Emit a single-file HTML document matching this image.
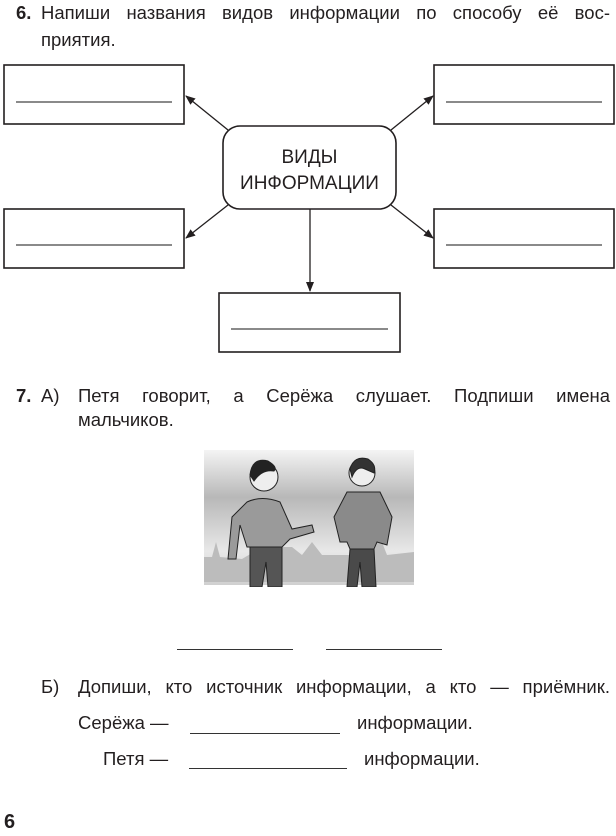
<!DOCTYPE html>
<html><head><meta charset="utf-8"><style>
body{margin:0;width:616px;height:836px;background:#fff;position:relative;overflow:hidden;font-family:"Liberation Sans","DejaVu Sans",sans-serif;color:#231f20}
.t{position:absolute;font-size:18.5px;white-space:nowrap;line-height:20px}
b{font-weight:bold}
</style></head><body>
<div class="t" style="left:16px;top:3px"><b>6.</b></div>
<div class="t" style="left:41px;top:3px;width:569px;text-align:justify;text-align-last:justify">Напиши названия видов информации по способу её вос-</div>
<div class="t" style="left:41px;top:30px">приятия.</div>

<svg width="616" height="430" style="position:absolute;left:0;top:0">
<defs><marker id="a" markerWidth="10" markerHeight="8" refX="9" refY="4" orient="auto" markerUnits="userSpaceOnUse"><path d="M0,0 L10,4 L0,8 Z" fill="#231f20"/></marker></defs>
<g fill="none" stroke="#231f20" stroke-width="1.6">
<rect x="4" y="65" width="180" height="59"/>
<rect x="434" y="65" width="180" height="59"/>
<rect x="4" y="209" width="180" height="59"/>
<rect x="434" y="209" width="180" height="59"/>
<rect x="219" y="293" width="181" height="59"/>
<rect x="223" y="126" width="173" height="83" rx="17"/>
</g>
<g stroke="#444" stroke-width="1.3">
<line x1="16" y1="102" x2="172" y2="102"/>
<line x1="446" y1="102" x2="602" y2="102"/>
<line x1="16" y1="245" x2="172" y2="245"/>
<line x1="446" y1="245" x2="602" y2="245"/>
<line x1="231" y1="329" x2="388" y2="329"/>
</g>
<g stroke="#231f20" stroke-width="1.3" marker-end="url(#a)">
<line x1="228" y1="130" x2="186" y2="96"/>
<line x1="391" y1="130" x2="433" y2="96"/>
<line x1="228" y1="205" x2="186" y2="238"/>
<line x1="391" y1="205" x2="433" y2="238"/>
<line x1="310" y1="209" x2="310" y2="291"/>
</g>
<text x="309.5" y="163" text-anchor="middle" font-size="19" fill="#231f20" font-family="Liberation Sans,sans-serif">ВИДЫ</text>
<text x="309.5" y="189" text-anchor="middle" font-size="19" fill="#231f20" font-family="Liberation Sans,sans-serif">ИНФОРМАЦИИ</text>
</svg>

<div class="t" style="left:16px;top:386px"><b>7.</b></div>
<div class="t" style="left:41px;top:386px">А)</div>
<div class="t" style="left:78px;top:386px;width:532px;text-align:justify;text-align-last:justify">Петя говорит, а Серёжа слушает. Подпиши имена</div>
<div class="t" style="left:78px;top:410px">мальчиков.</div>

<svg width="214" height="140" style="position:absolute;left:202px;top:447px">
<defs><linearGradient id="g" x1="0" y1="0" x2="0" y2="1"><stop offset="0" stop-color="#f4f4f4"/><stop offset="0.35" stop-color="#b8b8b8"/><stop offset="0.75" stop-color="#e8e8e8"/><stop offset="1" stop-color="#d0d0d0"/></linearGradient></defs>
<rect x="2" y="3" width="210" height="135" fill="url(#g)"/>
<path d="M2,110 L10,110 L14,95 L18,110 L40,112 L60,100 L90,100 L100,108 L110,95 L120,108 L170,108 L178,90 L185,108 L212,105 L212,135 L2,135Z" fill="#bcbcbc"/>
<g stroke="#222" stroke-width="1">
<circle cx="62" cy="30" r="14" fill="#eee"/><path d="M48,28 Q50,10 66,14 Q76,20 72,24 Q60,22 52,34Z" fill="#222"/>
<path d="M45,55 Q60,48 78,55 L90,82 L110,78 L112,85 L88,92 L80,100 L45,100 L38,78 L34,112 L26,112 L30,70Z" fill="#9a9a9a"/>
<path d="M48,100 L80,100 L80,140 L66,140 L64,115 L60,140 L48,140Z" fill="#555"/>
<circle cx="160" cy="26" r="13" fill="#eee"/><path d="M148,22 Q152,8 166,12 Q175,18 172,26 L163,22 Q155,18 150,30Z" fill="#333"/>
<path d="M145,45 L178,45 L190,70 L185,98 L175,95 L172,102 L148,102 L145,95 L138,95 L132,70Z" fill="#8a8a8a"/>
<path d="M148,102 L172,102 L174,140 L160,140 L158,115 L155,140 L145,140Z" fill="#4a4a4a"/>
</g>
</svg>

<div style="position:absolute;left:177px;top:649px;width:116px;border-top:1.3px solid #333"></div>
<div style="position:absolute;left:326px;top:649px;width:116px;border-top:1.3px solid #333"></div>

<div class="t" style="left:41px;top:677px">Б)</div>
<div class="t" style="left:78px;top:677px;width:532px;text-align:justify;text-align-last:justify">Допиши, кто источник информации, а кто — приёмник.</div>
<div class="t" style="left:78px;top:713px">Серёжа —</div>
<div style="position:absolute;left:190px;top:733px;width:150px;border-top:1.3px solid #333"></div>
<div class="t" style="left:357px;top:713px">информации.</div>
<div class="t" style="left:103px;top:749px">Петя —</div>
<div style="position:absolute;left:189px;top:768px;width:158px;border-top:1.3px solid #333"></div>
<div class="t" style="left:364px;top:749px">информации.</div>

<div class="t" style="left:4px;top:812px;font-size:20px"><b>6</b></div>
</body></html>
